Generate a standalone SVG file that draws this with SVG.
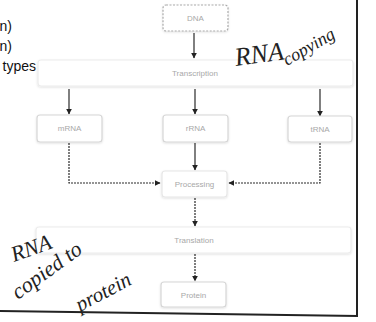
<svg xmlns="http://www.w3.org/2000/svg" width="376" height="322" viewBox="0 0 376 322">
<defs>
<marker id="ah" viewBox="0 0 10 10" refX="9" refY="5" markerWidth="5" markerHeight="5" orient="auto-start-reverse">
<path d="M0,0 L10,5 L0,10 z" fill="#222"/>
</marker>
<filter id="sh" x="-10%" y="-20%" width="120%" height="150%">
<feDropShadow dx="0" dy="1" stdDeviation="1" flood-color="#000" flood-opacity="0.12"/>
</filter>
<style>
.box{fill:#fff;stroke:#d6d6d6;stroke-width:1.2;filter:url(#sh)}
.dash{stroke:#aaa;stroke-dasharray:2 1.5}
.lbl{font-family:"Liberation Sans",Arial,sans-serif;font-size:8px;fill:#a8a8a8;text-anchor:middle}
.side{font-family:"Liberation Sans",Arial,sans-serif;font-size:14px;fill:#111;text-anchor:end}
.hand{font-family:"Liberation Serif","DejaVu Serif",serif;font-style:italic;fill:#222}
.c{fill:none;stroke:#2a2a2a;stroke-width:1.2;marker-end:url(#ah)}
.cd{stroke-dasharray:2 1}
</style>
</defs>
<rect width="376" height="322" fill="#fff"/>

<g id="side-text">
<text class="side" x="12" y="31">n)</text>
<text class="side" x="12" y="51">n)</text>
<text class="side" x="36" y="71">types</text>
</g>

<g id="connectors">
<line class="c" x1="194" y1="33" x2="194" y2="58"/>
<line class="c" x1="69" y1="89" x2="69" y2="114"/>
<line class="c" x1="195" y1="89" x2="195" y2="114"/>
<line class="c" x1="320" y1="89" x2="320" y2="116"/>
<polyline class="c cd" points="69,143 69,183 160,183"/>
<line class="c" x1="195" y1="143" x2="195" y2="170"/>
<polyline class="c cd" points="320,143 320,183 229,183"/>
<line class="c cd" x1="195" y1="198" x2="195" y2="226"/>
<line class="c cd" x1="195" y1="254" x2="195" y2="281"/>
</g>

<g id="node-dna">
<rect class="box dash" x="163" y="5" width="65" height="26" rx="3"/>
<text class="lbl" x="195.5" y="21">DNA</text>
</g>
<g id="node-transcription">
<rect class="box" x="38" y="60" width="315" height="26" rx="3" style="stroke:#ececec"/>
<text class="lbl" x="195" y="76">Transcription</text>
</g>
<g id="node-mrna">
<rect class="box" x="37" y="115" width="65" height="27" rx="3"/>
<text class="lbl" x="69.5" y="131">mRNA</text>
</g>
<g id="node-rrna">
<rect class="box" x="163" y="115" width="65" height="27" rx="3"/>
<text class="lbl" x="195.5" y="131">rRNA</text>
</g>
<g id="node-trna">
<rect class="box" x="288" y="116" width="64" height="26" rx="3"/>
<text class="lbl" x="320" y="132">tRNA</text>
</g>
<g id="node-processing">
<rect class="box" x="162" y="171" width="65" height="26" rx="3" style="stroke:#e6e6e6"/>
<text class="lbl" x="194.5" y="187">Processing</text>
</g>
<g id="node-translation">
<rect class="box" x="36" y="227" width="315" height="26" rx="3" style="stroke:#ececec"/>
<text class="lbl" x="194" y="243">Translation</text>
</g>
<g id="node-protein">
<rect class="box" x="161" y="282" width="65" height="25" rx="3"/>
<text class="lbl" x="193.5" y="298">Protein</text>
</g>

<g id="frame">
<line x1="357" y1="0" x2="357" y2="316" stroke="#222" stroke-width="2"/>
<line x1="0" y1="311" x2="358" y2="316" stroke="#222" stroke-width="1.8"/>
</g>

<g id="handwriting">
<text class="hand" x="236" y="66" font-size="26" transform="rotate(-8 236 66)">RNA</text>
<text class="hand" x="287" y="66" font-size="18" transform="rotate(-30 287 66)">copying</text>
<text class="hand" x="14" y="262" font-size="22" transform="rotate(-20 14 262)">RNA</text>
<text class="hand" x="18" y="300" font-size="22" transform="rotate(-36 18 300)">copied to</text>
<text class="hand" x="80" y="312" font-size="21" transform="rotate(-28 80 312)">protein</text>
</g>
</svg>
